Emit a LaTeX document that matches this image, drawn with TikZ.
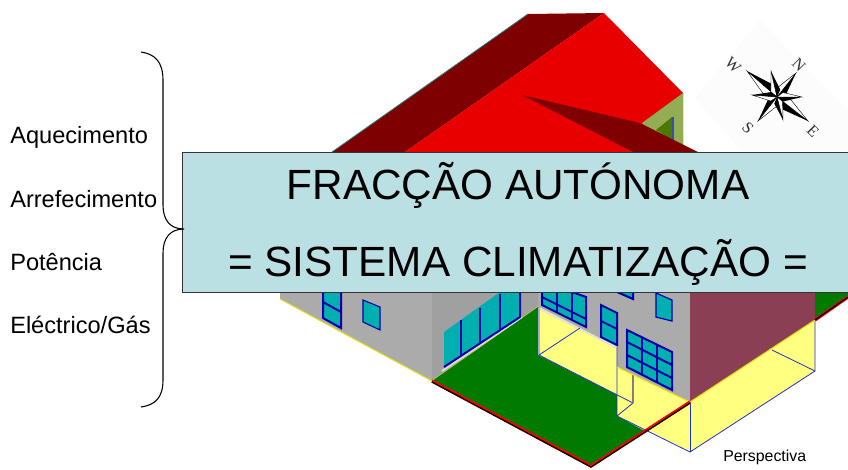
\documentclass[tikz,border=0pt]{standalone}
\usepackage{fontspec}
\setmainfont{Liberation Sans}
\newfontfamily\compassfont{Liberation Serif}
\definecolor{roofred}{HTML}{E80000}
\definecolor{roofdark}{HTML}{7E0000}
\definecolor{gableolive}{HTML}{93AD55}
\definecolor{gablegreen}{HTML}{4A7A00}
\definecolor{wallgrey}{HTML}{ABABAB}
\definecolor{wallshade}{HTML}{A0A0A0}
\definecolor{wallmaroon}{HTML}{8A3F55}
\definecolor{lawngreen}{HTML}{007A00}
\definecolor{terrace}{HTML}{FFFF80}
\definecolor{glass}{HTML}{00B0B0}
\definecolor{frameblue}{HTML}{0000A8}
\definecolor{outlineblue}{HTML}{2030D0}
\definecolor{panelblue}{HTML}{BBE0E3}
\tikzset{
    label/.style={anchor=base west, inner sep=0pt, font=\fontsize{17.7}{20}\selectfont},
    headline/.style={anchor=base, inner sep=0pt, font=\fontsize{31.7}{36}\selectfont},
    compassletter/.style={inner sep=0pt, font=\fontsize{12}{13}\selectfont\compassfont, rotate=-45, text=black!80},
    windowframe/.style={draw=frameblue, line width=1.5pt, fill=glass},
    mullion/.style={draw=frameblue, line width=1.5pt},
    outline/.style={draw=outlineblue, line width=0.6pt},
    brace/.style={draw=black, line width=0.8pt}
}
\begin{document}
\begin{tikzpicture}[x=0.75pt,y=-0.75pt]
    \useasboundingbox (0,0) rectangle (848,469);
    % roof
    \fill[roofdark] (528,14) -- (604,13) -- (405,152) -- (332,152) -- cycle;
    \draw[teal!70!gray, line width=0.6pt] (332,152) -- (528,14);
    \fill[roofred] (604,13) -- (683,93) -- (683,152) -- (405,152) -- cycle;
    \fill[gableolive] (683,93) -- (683,152) -- (670,152) -- (642,123) -- cycle;
    \fill[gablegreen] (656,130) -- (672,117) -- (672,140) -- cycle;
    \draw[outlineblue!70!gray, line width=0.8pt] (673,117) -- (673,142);
    \fill[roofdark] (522,95) -- (640,123) -- (698,152) -- (633,152) -- cycle;
    % walls
    \fill[wallgrey] (280,292) -- (432,292) -- (432,381) -- (280,299) -- cycle;
    \fill[wallshade] (432,292) -- (586,292) -- (538,307) -- (432,381) -- cycle;
    \fill[wallgrey] (538,292) -- (690,292) -- (690,402) -- (617,367) -- (617,347) -- (538,307) -- cycle;
    \fill[wallmaroon] (690,292) -- (815,292) -- (815,320) -- (690,402) -- cycle;
    \draw[yellow!90!black, line width=0.8pt] (280,299) -- (432,381) -- (538,307);
    % lawn
    \fill[lawngreen] (432,381) -- (538,307) -- (538,355) -- (633,403) -- (617,416) -- (645,431) -- (690,402) -- (591,466) -- cycle;
    \fill[lawngreen] (815,292) -- (848,292) -- (848,297) -- (815,320) -- cycle;
    % terrace
    \fill[terrace] (539,307) -- (617,347) -- (617,367) -- (633,375) -- (633,403) -- (539,355) -- cycle;
    \fill[terrace] (617,367) -- (690,402) -- (815,320) -- (815,371) -- (690,452) -- (617,416) -- cycle;
    \draw[white!75!gray, line width=1.2pt] (540,309) -- (617,348);
    \draw[white!75!gray, line width=1.4pt] (442,371) -- (522,317);
    \draw[outline] (539,307) -- (539,355) -- (633,403);
    \draw[outline] (539,355) -- (580,328);
    \draw[outline] (617,347) -- (617,416) -- (690,452) -- (815,371) -- (815,320);
    \draw[outline] (690,402) -- (690,452);
    \draw[outline] (617,416) -- (633,403);
    \draw[outline] (772,350) -- (815,371);
    \draw[gray, line width=1pt] (633,375) -- (633,403);
    \draw[yellow!90!black, line width=0.8pt] (617,367) -- (690,402) -- (815,320);
    \draw[red, line width=2.4pt] (432,381) -- (591,466) -- (690,402);
    \draw[black, line width=1pt] (432,382) -- (591,467) -- (690,403);
    \draw[red, line width=2.4pt] (815,320) -- (848,297);
    \draw[black, line width=1pt] (815,320) -- (848,297);
    % windows
    \draw[windowframe] (323,292) -- (323,318) -- (341,328) -- (341,292);
    \draw[mullion] (323,302) -- (341,312);
    \draw[draw=frameblue, line width=0.8pt, fill=glass] (363,300) -- (363,322) -- (380,330) -- (380,307) -- cycle;
    \fill[glass] (444,367) -- (444,332) -- (500,292) -- (520,292) -- (520,317) -- cycle;
    \draw[mullion] (444,367) -- (520,317) -- (520,292);
    \foreach \mx/\my in {461/320,480/308,500/294}
        \draw[mullion] (\mx,\my) -- (\mx,\my+35);
    \draw[windowframe] (542,292) -- (542,305) -- (586,327) -- (586,297) -- (572,292);
    \draw[mullion] (557,292) -- (557,313);
    \draw[mullion] (572,292) -- (572,320);
    \draw[mullion] (542,297) -- (586,319);
    \draw[windowframe] (601,305) -- (601,337) -- (617,345) -- (617,313) -- cycle;
    \draw[mullion] (601,321) -- (617,329);
    \draw[windowframe] (617,292) -- (633,299) -- (633,292);
    \draw[draw=frameblue, line width=0.9pt, fill=glass] (656,293) -- (656,317) -- (672,321) -- (672,300) -- cycle;
    \draw[windowframe] (627,330) -- (627,367) -- (672,390) -- (672,352) -- cycle;
    \draw[mullion] (642,337) -- (642,375);
    \draw[mullion] (657,345) -- (657,382);
    \draw[mullion] (627,342) -- (672,365);
    \draw[mullion] (627,355) -- (672,378);
    % compass
    \fill[black!1] (760,20) -- (695,98) -- (760,172) -- (848,172) -- (848,110) -- cycle;
    \foreach \dx/\dy in {-30/-26,-19/24,31/24,19/-24,-6/-26,-25/-2,6/23,25/0}{
        \filldraw[fill=white, draw=black, line width=0.3pt] (777,97) -- (777+\dx,97+\dy) -- ({777+0.24*\dx+0.18*\dy},{97+0.24*\dy-0.18*\dx}) -- cycle;
        \fill[black] (777,97) -- (777+\dx,97+\dy) -- ({777+0.24*\dx-0.18*\dy},{97+0.24*\dy+0.18*\dx}) -- cycle;
    }
    \node (west) [compassletter] at (733,65) {W};
    \node (north) [compassletter] at (799,65) {N};
    \node (south) [compassletter] at (748,128) {S};
    \node (east) [compassletter] at (813,131) {E};
    % panel
    \node (panel) [draw=black!80, line width=0.9pt, fill=panelblue, anchor=north west, inner sep=0pt, minimum width=666*0.75pt, minimum height=140*0.75pt] at (182,152) {};
    \node (title) [headline] at (518,199) {FRACÇÃO AUTÓNOMA};
    \node (subtitle) [headline] at (518,276) {= SISTEMA CLIMATIZAÇÃO =};
    % brace
    \draw[brace] (141,52) .. controls (155,54) and (163,62) .. (163,80) -- (163,205)
        .. controls (163,220) and (170,229) .. (184,229)
        .. controls (170,229) and (163,238) .. (163,253) -- (163,380)
        .. controls (163,398) and (155,405) .. (141,407);
    \node (heat) [label] at (10,143) {Aquecimento};
    \node (cool) [label] at (10,207) {Arrefecimento};
    \node (power) [label] at (10,270) {Potência};
    \node (energy) [label] at (10,333) {Eléctrico/Gás};
    \node (view) [anchor=base west, inner sep=0pt, font=\fontsize{11.9}{14}\selectfont] at (723,461) {Perspectiva};
\end{tikzpicture}
\end{document}
